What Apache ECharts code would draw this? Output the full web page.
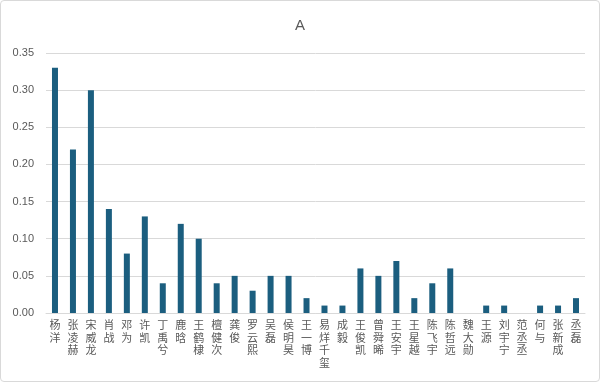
<!DOCTYPE html>
<html><head><meta charset="utf-8">
<script src="https://cdn.jsdelivr.net/npm/echarts@6/dist/echarts.min.js"></script>
<style>html,body{margin:0;padding:0;background:#fff}#c{width:598px;height:380px;border:1px solid #d9d9d9;border-radius:4px}</style>
</head><body><div id="c"></div>
<script>
const categories = ['杨洋','张凌赫','宋威龙','肖战','邓为','许凯','丁禹兮','鹿晗','王鹤棣','檀健次','龚俊','罗云熙','吴磊','侯明昊','王一博','易烊千玺','成毅','王俊凯','曾舜晞','王安宇','王星越','陈飞宇','陈哲远','魏大勋','王源','刘宇宁','范丞丞','何与','张新成','丞磊'];
const values = [0.33,0.22,0.30,0.14,0.08,0.13,0.04,0.12,0.10,0.04,0.05,0.03,0.05,0.05,0.02,0.01,0.01,0.06,0.05,0.07,0.02,0.04,0.06,0,0.01,0.01,0,0.01,0.01,0.02];
const yTicks = [0,0.05,0.10,0.15,0.20,0.25,0.30,0.35];
const chart = echarts.init(document.getElementById('c'));
chart.setOption({
  animation:false,
  title:{text:'A',left:'center',top:12,textStyle:{fontFamily:'Liberation Sans, Arial',fontSize:15,fontWeight:'normal',color:'#595959'}},
  grid:{left:45,right:14,top:52,bottom:68},
  xAxis:{type:'category',data:categories,
    axisLine:{lineStyle:{color:'#d9d9d9'}},axisTick:{show:false},
    axisLabel:{interval:0,margin:6,fontFamily:'Noto Sans CJK SC',fontSize:11,lineHeight:12.5,color:'#595959',verticalAlign:'top',
      formatter:v=>v.split('').join('\n')}},
  yAxis:{type:'value',min:0,max:0.35,interval:0.05,
    axisLabel:{fontFamily:'Liberation Sans, Arial',fontSize:11,color:'#595959',margin:12,formatter:v=>v.toFixed(2)},
    splitLine:{lineStyle:{color:'#d9d9d9'}},axisLine:{show:false},axisTick:{show:false}},
  series:[{type:'bar',data:values,barWidth:6,itemStyle:{color:'#1b5e7f'}}]
});
</script></body></html>
